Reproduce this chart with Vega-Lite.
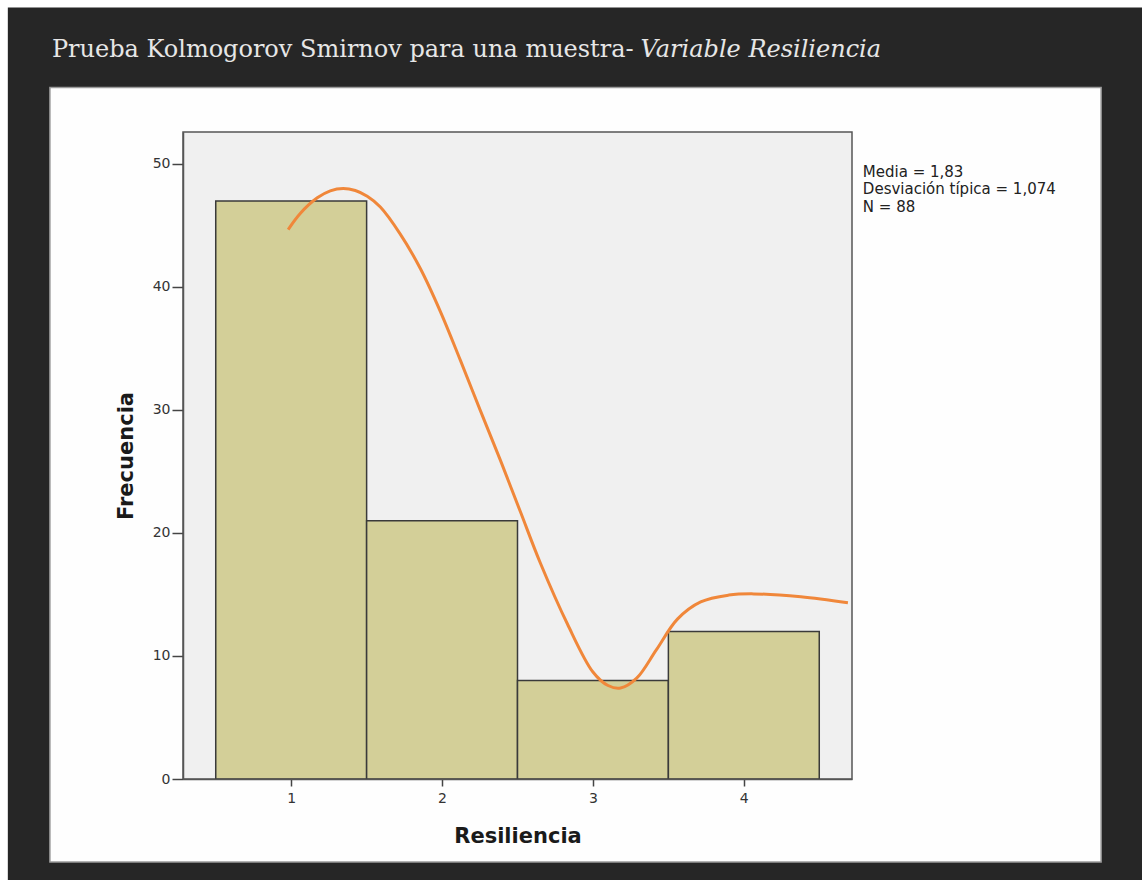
{
  "$schema": "https://vega.github.io/schema/vega-lite/v6.json",
  "width": 669,
  "height": 647,
  "autosize": {"type": "none"},
  "padding": {"left": 183, "top": 132, "right": 290, "bottom": 101},
  "background": "#ffffff",
  "config": {
    "view": {"stroke": null, "fill": null},
    "font": "DejaVu Sans"
  },
  "datasets": {
    "barras": [
      {"resiliencia": 1, "desde": 0.5, "hasta": 1.5, "frecuencia": 47},
      {"resiliencia": 2, "desde": 1.5, "hasta": 2.5, "frecuencia": 21},
      {"resiliencia": 3, "desde": 2.5, "hasta": 3.5, "frecuencia": 8},
      {"resiliencia": 4, "desde": 3.5, "hasta": 4.5, "frecuencia": 12}
    ],
    "curva": [
      {"x": 0.980, "y": 44.67},
      {"x": 1.060, "y": 45.98},
      {"x": 1.173, "y": 47.25},
      {"x": 1.259, "y": 47.82},
      {"x": 1.345, "y": 48.01},
      {"x": 1.425, "y": 47.84},
      {"x": 1.504, "y": 47.37},
      {"x": 1.591, "y": 46.50},
      {"x": 1.723, "y": 44.30},
      {"x": 1.856, "y": 41.50},
      {"x": 1.989, "y": 38.00},
      {"x": 2.121, "y": 34.05},
      {"x": 2.254, "y": 29.95},
      {"x": 2.387, "y": 25.90},
      {"x": 2.520, "y": 21.70},
      {"x": 2.650, "y": 17.60},
      {"x": 2.831, "y": 12.60},
      {"x": 3.000, "y": 8.70},
      {"x": 3.100, "y": 7.60},
      {"x": 3.183, "y": 7.40},
      {"x": 3.290, "y": 8.20},
      {"x": 3.420, "y": 10.50},
      {"x": 3.560, "y": 13.00},
      {"x": 3.714, "y": 14.40},
      {"x": 3.900, "y": 14.95},
      {"x": 4.066, "y": 15.05},
      {"x": 4.378, "y": 14.81},
      {"x": 4.690, "y": 14.32}
    ]
  },
  "layer": [
    {
      "data": {"values": [{}]},
      "mark": {"type": "rect", "fill": "#262626", "clip": false},
      "encoding": {
        "x": {"datum": -0.878, "type": "quantitative", "scale": {"domain": [0.283, 4.717], "nice": false, "zero": false}},
        "x2": {"datum": 6.9},
        "y": {"datum": 62.73, "type": "quantitative", "scale": {"domain": [0, 52.6], "nice": false, "zero": false}},
        "y2": {"datum": -9}
      }
    },
    {
      "data": {"values": [{}]},
      "mark": {"type": "rect", "fill": "#fefefe", "stroke": "#9a9a9a", "strokeWidth": 1.5, "clip": false},
      "encoding": {
        "x": {"datum": -0.599, "type": "quantitative"},
        "x2": {"datum": 6.368},
        "y": {"datum": 56.22, "type": "quantitative"},
        "y2": {"datum": -6.75}
      }
    },
    {
      "data": {"values": [{}]},
      "mark": {"type": "rect", "fill": "#f0f0f0", "stroke": "#555555", "strokeWidth": 1.5, "clip": false},
      "encoding": {
        "x": {"datum": 0.283, "type": "quantitative"},
        "x2": {"datum": 4.717},
        "y": {"datum": 52.6, "type": "quantitative"},
        "y2": {"datum": 0}
      }
    },
    {
      "data": {"name": "barras"},
      "mark": {"type": "rect", "fill": "#d3cf98", "stroke": "#3a3a3a", "strokeWidth": 1.5},
      "encoding": {
        "x": {
          "field": "desde", "type": "quantitative",
          "scale": {"domain": [0.283, 4.717], "nice": false, "zero": false},
          "axis": {
            "values": [1, 2, 3, 4], "format": "d", "title": "Resiliencia", "grid": false, "zindex": 1,
            "tickSize": 7, "tickColor": "#444444", "tickWidth": 1.5,
            "domainColor": "#555555", "domainWidth": 1.5,
            "labelFont": "DejaVu Sans", "labelFontSize": 14, "labelColor": "#333333", "labelPadding": 5,
            "titleFont": "DejaVu Sans", "titleFontSize": 21, "titleFontWeight": "bold", "titleColor": "#1a1a1a", "titlePadding": 20
          }
        },
        "x2": {"field": "hasta"},
        "y": {
          "field": "frecuencia", "type": "quantitative",
          "scale": {"domain": [0, 52.6], "nice": false, "zero": false},
          "axis": {
            "values": [0, 10, 20, 30, 40, 50], "format": "d", "title": "Frecuencia", "grid": false, "zindex": 1,
            "tickSize": 11, "tickColor": "#444444", "tickWidth": 1.5,
            "domainColor": "#555555", "domainWidth": 1.5,
            "labelFont": "DejaVu Sans", "labelFontSize": 14, "labelColor": "#333333", "labelPadding": 2,
            "titleFont": "DejaVu Sans", "titleFontSize": 21, "titleFontWeight": "bold", "titleColor": "#1a1a1a", "titlePadding": 16
          }
        },
        "y2": {"datum": 0}
      }
    },
    {
      "data": {"name": "curva"},
      "mark": {"type": "line", "color": "#f0873a", "strokeWidth": 3, "interpolate": "catmull-rom", "clip": false},
      "encoding": {
        "x": {"field": "x", "type": "quantitative"},
        "y": {"field": "y", "type": "quantitative"}
      }
    },
    {
      "data": {"values": [{}]},
      "mark": {"type": "text", "align": "left", "baseline": "alphabetic", "font": "DejaVu Sans", "fontSize": 15, "lineHeight": 17.5, "color": "#222222", "clip": false,
        "text": ["Media = 1,83", "Desviación típica = 1,074", "N = 88"]},
      "encoding": {
        "x": {"datum": 4.789, "type": "quantitative"},
        "y": {"datum": 48.98, "type": "quantitative"}
      }
    },
    {
      "data": {"values": [{}]},
      "mark": {"type": "text", "align": "left", "baseline": "alphabetic", "font": "DejaVu Serif", "fontSize": 24, "color": "#e6e6e6", "clip": false,
        "text": "Prueba Kolmogorov Smirnov para una muestra-"},
      "encoding": {
        "x": {"datum": -0.586, "type": "quantitative"},
        "y": {"datum": 58.67, "type": "quantitative"}
      }
    },
    {
      "data": {"values": [{}]},
      "mark": {"type": "text", "align": "left", "baseline": "alphabetic", "font": "DejaVu Serif", "fontSize": 24, "fontStyle": "italic", "color": "#e6e6e6", "clip": false,
        "text": "Variable Resiliencia"},
      "encoding": {
        "x": {"datum": 3.316, "type": "quantitative"},
        "y": {"datum": 58.67, "type": "quantitative"}
      }
    }
  ]
}
